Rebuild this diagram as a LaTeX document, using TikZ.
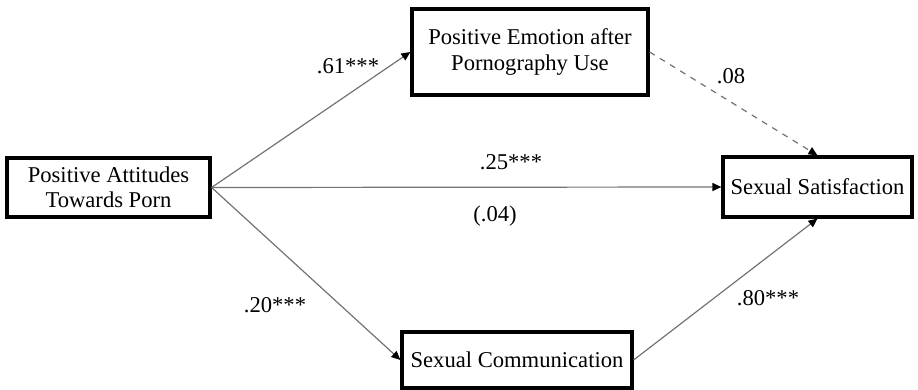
\documentclass[tikz,border=0pt]{standalone}
\usepackage{fontspec}
\setmainfont{Liberation Serif}
\usetikzlibrary{arrows.meta}

\tikzset{
  varbox/.style={draw=black,line width=1.6pt,fill=white,align=center,inner sep=0pt},
  path/.style={draw=black!55,line width=0.6pt,-{Triangle[length=4.5pt,width=4pt,color=black]}},
  coef/.style={font=\fontsize{11.3}{13}\selectfont}
}

\begin{document}
\begin{tikzpicture}[x=0.5pt,y=-0.5pt,font=\fontsize{11.3}{12.6}\selectfont]
                      \useasboundingbox (0,0) rectangle (918,390);
                      % variables
                      \node[varbox,minimum width=101.5pt,minimum height=29.5pt](att)at(108.5,187.5){Positive Attitudes\\Towards Porn};
                      \node[varbox,minimum width=118pt,minimum height=43pt](emo)at(530,52){Positive Emotion after\\Pornography Use};
                      \node[varbox,minimum width=94.5pt,minimum height=30pt](sat)at(817.5,187){Sexual Satisfaction};
                      \node[varbox,minimum width=115pt,minimum height=28pt](com)at(517,360){Sexual Communication};
                      % paths
                      \draw[path](att.east)--(emo.west);
                      \draw[path](att.east)--(sat.west);
                      \draw[path](att.east)--(com.west);
                      \draw[path,dashed](emo.east)--(sat.north);
                      \draw[path](com.east)--(sat.south);
                      % coefficients
                      \node[coef](c1)at(348,66){.61***};
                      \node[coef](c2)at(731,76){.08};
                      \node[coef](c3)at(511,162){.25***};
                      \node[coef](c4)at(495,216){(.04)};
                      \node[coef](c5)at(275,305){.20***};
                      \node[coef](c6)at(768,298){.80***};
                  \end{tikzpicture}
\end{document}
